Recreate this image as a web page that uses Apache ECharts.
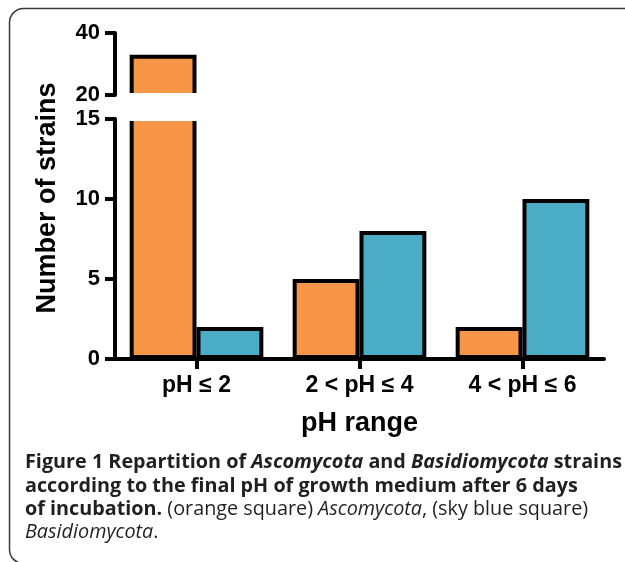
<!DOCTYPE html>
<html><head><meta charset="utf-8">
<script src="https://cdn.jsdelivr.net/npm/echarts@6/dist/echarts.min.js"></script>
<style>html,body{margin:0;padding:0;background:#fff}#c{width:625px;height:562px}</style>
</head><body><div id="c"></div>
<script>
// ---- data ----
const categories = ['pH ≤ 2', '2 < pH ≤ 4', '4 < pH ≤ 6'];
const ascomycota = [33, 5, 2];
const basidiomycota = [2, 8, 10];
const upperTickLabels = [20, 40];       // upper (broken) segment
const lowerTickLabels = [0, 5, 10, 15]; // lower segment
const xTitle = 'pH range';
const yTitle = 'Number of strains';
const captionLines = [
  '{b|Figure 1 Repartition of }{bi|Ascomycota}{b| and }{bi|Basidiomycota}{b| strains}',
  '{b|according to the final pH of growth medium after 6 days}',
  '{b|of incubation.}{r| (orange square) }{i|Ascomycota}{r|, (sky blue square)}',
  '{i|Basidiomycota}{r|.}'
];

const ORANGE = '#F79646', BLUE = '#4BACC6';
const upperMin = upperTickLabels[0];
const lowerMax = lowerTickLabels[lowerTickLabels.length - 1];

const chart = echarts.init(document.getElementById('c'), null, {renderer: 'canvas'});
const FONT = 'Liberation Sans, Arial, sans-serif';
const lineStyle = {color: '#000', width: 4};
const axisLabel = {color: '#000', fontWeight: 'bold', fontSize: 22, fontFamily: FONT, margin: 15};

function yAx(grid, ticks) {
  return {
    gridIndex: grid, type: 'value',
    min: ticks[0], max: ticks[ticks.length - 1], interval: ticks[1] - ticks[0],
    axisLine: {show: true, lineStyle: lineStyle},
    axisTick: {show: true, length: 10, lineStyle: lineStyle},
    splitLine: {show: false},
    axisLabel: axisLabel
  };
}
function barS(name, xi, yi, data, color) {
  return {
    name: name, type: 'bar', xAxisIndex: xi, yAxisIndex: yi, data: data,
    barWidth: '41%', barGap: '0%', clip: true, silent: true,
    itemStyle: {color: color, borderColor: '#000', borderWidth: 4}
  };
}
const upperFilter = v => (v > upperMin ? v : '-');

chart.setOption({
  animation: false,
  backgroundColor: '#fff',
  grid: [
    {left: 115, right: 21, top: 33, height: 62},
    {left: 115, right: 21, top: 119, height: 240}
  ],
  xAxis: [
    {gridIndex: 0, type: 'category', data: categories, show: false},
    {gridIndex: 1, type: 'category', data: categories,
     axisLine: {show: true, lineStyle: lineStyle},
     axisTick: {show: true, alignWithLabel: true, length: 10, lineStyle: lineStyle},
     axisLabel: {color: '#000', fontWeight: 'bold', fontSize: 23, fontFamily: FONT, margin: 15},
     name: xTitle, nameLocation: 'middle', nameGap: 51, nameMoveOverlap: false,
     nameTextStyle: {color: '#000', fontWeight: 'bold', fontSize: 27, fontFamily: FONT}}
  ],
  yAxis: [yAx(0, upperTickLabels), yAx(1, lowerTickLabels)],
  series: [
    barS('Ascomycota', 0, 0, ascomycota.map(upperFilter), ORANGE),
    barS('Basidiomycota', 0, 0, basidiomycota.map(upperFilter), BLUE),
    barS('Ascomycota', 1, 1, ascomycota, ORANGE),
    barS('Basidiomycota', 1, 1, basidiomycota, BLUE)
  ]
});

// axis-break gap derived from the library's scales
const yTop = chart.convertToPixel({yAxisIndex: 0}, upperMin);
const yBot = chart.convertToPixel({yAxisIndex: 1}, lowerMax);
const xc0 = chart.convertToPixel({xAxisIndex: 1}, categories[0]);
const xc1 = chart.convertToPixel({xAxisIndex: 1}, categories[1]);
const band = xc1 - xc0;

const CAP = 19.8, CAPLH = 23.3;
const capStyle = (weight, style) => ({fontFamily: 'Open Sans, sans-serif', fontWeight: weight, fontStyle: style, fontSize: CAP, lineHeight: CAPLH, fill: '#231f20'});

chart.setOption({
  graphic: [
    {type: 'rect', id: 'break', z: 100, silent: true,
     shape: {x: xc0 - band / 2 + 7, y: yTop - 2, width: band / 2 + 2, height: yBot - yTop + 4},
     style: {fill: '#fff'}},
    {type: 'rect', id: 'frame', z: 100, silent: true,
     shape: {x: 9.5, y: 8.5, width: 640, height: 555, r: 14},
     style: {fill: 'none', stroke: '#3a3a3a', lineWidth: 1.5}},
    {type: 'text', id: 'ytitle', z: 100, silent: true, x: 47.5, y: 198, rotation: Math.PI / 2,
     style: {text: yTitle, fontFamily: FONT, fontWeight: 'bold', fontSize: 27, fill: '#000',
             align: 'center', verticalAlign: 'middle', textAlign: 'center', textVerticalAlign: 'middle'}},
    {type: 'text', id: 'caption', z: 100, silent: true, x: 25, y: 451,
     style: {text: captionLines.join('\n'), fill: '#231f20', fontSize: CAP, lineHeight: CAPLH,
             fontFamily: 'Open Sans, sans-serif',
             rich: {
               b: capStyle('bold', 'normal'),
               bi: capStyle('bold', 'italic'),
               r: capStyle('normal', 'normal'),
               i: capStyle('normal', 'italic')
             }}}
  ]
});
</script></body></html>
